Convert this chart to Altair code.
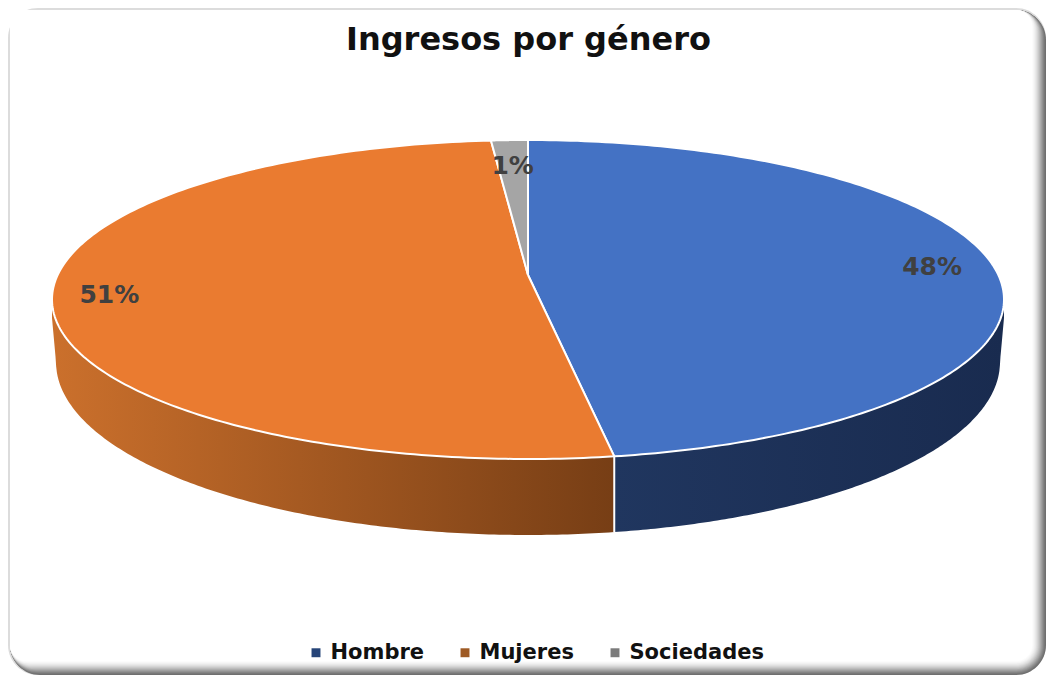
import numpy as np
import pandas as pd
import altair as alt

TITLE = "Ingresos por género"
categories = ["Hombre", "Mujeres", "Sociedades"]
labels = ["48%", "51%", "1%"]
shares = [47.1, 51.66, 1.24]          # sweep of each slice
top_colors = ["#4472c4", "#ea7b30", "#a5a5a5"]
legend_colors = ["#264478", "#9e5a24", "#7b7b7b"]
label_angles = [76.5, 271.8, 357.8]
label_radius = [0.873, 0.88, 0.838]

W, H = 1038, 667
OX, OY = 8, 8
CX, CY, RX, RY = 528, 299.5, 476, 159.5   # top ellipse
APEX_Y = 275
BX, BY, BR = 472, 362, 173                # bottom ellipse


def ex(phi):
    return CX + RX * np.sin(np.radians(phi))


def ey(phi):
    return CY - RY * np.cos(np.radians(phi))


def bottom(dx):
    dx = np.abs(dx)
    inside = np.sqrt(np.clip(1 - (dx / BX) ** 2, 0, 1))
    return np.where(dx < BX, BY + BR * inside, BY - (dx - BX) * 11)


edges = np.concatenate([[0], np.cumsum(shares)]) * 3.6
blue_end = float(edges[1])

xs = alt.Scale(domain=[OX, OX + W], range=[0, W], nice=False, zero=False)
ys = alt.Scale(domain=[OY, OY + H], range=[0, H], nice=False, zero=False)
X = lambda f="x": alt.X(f"{f}:Q", scale=xs, axis=None)
Y = lambda f="y": alt.Y(f"{f}:Q", scale=ys, axis=None)

layers = []

# ---- card frame: nested rounded rectangles give the soft lower-right shadow
dummy = pd.DataFrame({"a": [0]})
shade = ["#6f6f6f", "#787878", "#848484", "#929292", "#a0a0a0", "#aeaeae", "#bcbcbc",
         "#c9c9c9", "#d5d5d5", "#e0e0e0", "#e9e9e9", "#f1f1f1", "#f7f7f7", "#fcfcfc", "#ffffff"]


def frame(x1, y1, x2, y2, c, r):
    return alt.Chart(dummy).mark_rect(color=c, cornerRadius=r).encode(
        x=alt.value(x1), x2=alt.value(x2), y=alt.value(y1), y2=alt.value(y2))


layers.append(frame(0, 0, W, H, "#dcdcdc", 30))
for i, c in enumerate(shade):
    layers.append(frame(2, 2, W - i, H - i, c, max(30 - i, 16)))

# ---- side wall
def side(a, b):
    phi = np.linspace(a, b, 160)
    d = pd.DataFrame({"x": ex(phi), "y": ey(phi)})
    d["y2"] = bottom(d["x"] - CX)
    return d.sort_values("x")


def grad(c0, c1):
    return alt.LinearGradient(gradient="linear", x1=0, x2=1, y1=0, y2=0,
                              stops=[alt.GradientStop(color=c0, offset=0),
                                     alt.GradientStop(color=c1, offset=1)])


layers.append(alt.Chart(side(blue_end, 90)).mark_area(color=grad("#20365f", "#192b4f")).encode(
    x=X(), y=Y(), y2=alt.Y2("y2:Q")))
layers.append(alt.Chart(side(270, blue_end)).mark_area(color=grad("#cb702c", "#773e15")).encode(
    x=X(), y=Y(), y2=alt.Y2("y2:Q")))

cut = pd.DataFrame({"x": [ex(blue_end)], "y": [ey(blue_end)]})
cut["y2"] = bottom(cut["x"] - CX)
layers.append(alt.Chart(cut).mark_rule(color="white", strokeWidth=2).encode(
    x=X(), y=Y(), y2=alt.Y2("y2:Q")))

# ---- top face
for k, c in enumerate(top_colors):
    phi = np.linspace(edges[k], edges[k + 1], 200)
    wedge = pd.DataFrame({
        "x": np.concatenate([[CX], ex(phi), [CX]]),
        "y": np.concatenate([[APEX_Y], ey(phi), [APEX_Y]]),
    })
    wedge["i"] = range(len(wedge))
    layers.append(alt.Chart(wedge).mark_line(fill=c, stroke="white", strokeWidth=2,
                                             strokeJoin="round").encode(
        x=alt.X("x:Q", scale=xs, axis=None), y=Y(), order="i:Q"))

# ---- data labels
lab = pd.DataFrame({
    "x": [CX + (ex(a) - CX) * r for a, r in zip(label_angles, label_radius)],
    "y": [CY + (ey(a) - CY) * r for a, r in zip(label_angles, label_radius)],
    "t": labels,
})
layers.append(alt.Chart(lab).mark_text(font="DejaVu Sans", fontWeight="bold", fontSize=25,
                                       color="#404040").encode(x=X(), y=Y(), text="t:N"))

# ---- legend carrier (invisible marks, real legend)
leg = pd.DataFrame({"cat": categories, "x": [CX] * 3, "y": [CY] * 3})
layers.append(alt.Chart(leg).mark_square(opacity=0, size=10).encode(
    x=X(), y=Y(),
    color=alt.Color("cat:N", scale=alt.Scale(domain=categories, range=legend_colors),
                    legend=alt.Legend(orient="none", direction="horizontal", title=None,
                                      legendX=297.5, legendY=634, columns=3, zindex=1,
                                      symbolType="square", symbolSize=80, symbolOpacity=1,
                                      symbolStrokeWidth=0,
                                      labelFont="DejaVu Sans", labelFontWeight="bold",
                                      labelFontSize=21, labelColor="#111111",
                                      columnPadding=30, labelOffset=4))))

chart = alt.layer(*layers).properties(
    width=W, height=H, padding=0, autosize=alt.AutoSizeParams(type="none"),
    background="white",
    title=alt.TitleParams(TITLE, font="DejaVu Sans", fontWeight="bold", fontSize=32,
                          color="#111111", anchor="start", dx=338, dy=53, zindex=1, frame="group"),
).configure_view(stroke=None)

chart.save("out.html", embed_options={"renderer": "svg", "actions": False})
